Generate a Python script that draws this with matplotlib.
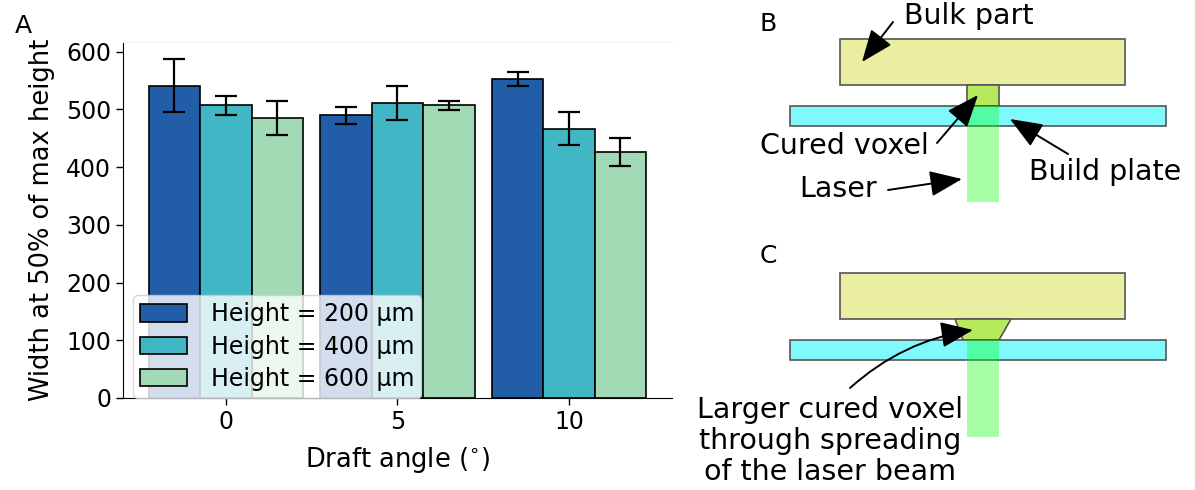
import numpy as np
import matplotlib
matplotlib.use('Agg')
import matplotlib.pyplot as plt
from matplotlib.patches import Rectangle, Polygon

plt.rcParams['font.family'] = ['DejaVu Sans']

# Widths at half maximum for each draft angle and nominal height
angles = [0, 5, 10]
heights = ['Height = 200 μm', 'Height = 400 μm', 'Height = 600 μm']
width_200 = [541, 490, 553]
width_400 = [507, 511, 467]
width_600 = [485, 507, 426]
err_200 = [46, 14.5, 12.5]
err_400 = [16, 30, 28.5]
err_600 = [30, 8.5, 24]
colors = ['#225ea8', '#41b6c4', '#a1dab4']

fig = plt.figure(figsize=(11.95, 4.9), dpi=100)

# Bar chart
ax = fig.add_axes([0.1029, 0.1878, 0.4594, 0.7265])
offsets = [-1.5, 0, 1.5]
for off, vals, errs, col, lab in zip(offsets, [width_200, width_400, width_600],
                                     [err_200, err_400, err_600], colors, heights):
    x = np.array(angles) + off
    ax.bar(x, vals, width=1.5, color=col, edgecolor='black', linewidth=1.2, label=lab)
    ax.errorbar(x, vals, yerr=errs, fmt='none', ecolor='black', elinewidth=1.6,
                capsize=8, capthick=1.6)

ax.set_xlim(-3, 13)
ax.set_ylim(0, 617)
ax.set_xticks(angles)
ax.set_yticks([0, 100, 200, 300, 400, 500, 600])
ax.tick_params(labelsize=17, length=5, width=1)
ax.spines['right'].set_visible(False)
ax.spines['top'].set_color('#f2f2f2')
ax.set_xlabel(r'Draft angle ($^{\circ}$)', fontsize=18.5, labelpad=8)
ax.set_ylabel('Width at 50% of max height', fontsize=18.5, labelpad=8)
ax.legend(loc='lower left', bbox_to_anchor=(0.018, 0.0), borderaxespad=0,
          fontsize=17, handlelength=2.0, handleheight=0.75, labelspacing=0.35,
          handletextpad=1.0, framealpha=0.8, borderpad=0.3)
fig.text(0.012, 0.932, 'A', fontsize=18)

# Schematics B and C drawn in pixel coordinates
sk = fig.add_axes([0, 0, 1, 1], zorder=5)
sk.set_xlim(0, 1195)
sk.set_ylim(490, 0)
sk.axis('off')
sk.patch.set_alpha(0)

bulk_c = '#eaeea0'
plate_c = '#80f9fd'
voxel_c = '#b6ea5c'
edge_c = '#555555'


def draw_setup(y0, voxel_pts):
    sk.add_patch(Rectangle((840, y0), 285, 46, facecolor=bulk_c, edgecolor=edge_c, lw=1.2))
    sk.add_patch(Polygon(voxel_pts, closed=True, facecolor=voxel_c, edgecolor=edge_c, lw=1.2))
    sk.add_patch(Rectangle((790, y0 + 67), 376, 20, facecolor=plate_c, edgecolor=edge_c, lw=1.2))


arrow = dict(arrowstyle='-|>,head_length=1.0,head_width=0.4', color='black', lw=1.4,
             shrinkA=0, shrinkB=0, mutation_scale=20)

# B: straight beam
draw_setup(39, [(967, 85), (999, 85), (999, 106), (967, 106)])
sk.add_patch(Rectangle((967, 106), 32, 96, facecolor=(0, 1, 0), alpha=0.35, lw=0))
sk.text(760, 24, 'B', fontsize=18, va='center', ha='left')
sk.text(904, 16, 'Bulk part', fontsize=20.5, va='center', ha='left')
sk.annotate('', xy=(862, 62), xytext=(893, 22), arrowprops=arrow)
sk.text(760, 146, 'Cured voxel', fontsize=20.5, va='center', ha='left')
sk.annotate('', xy=(978, 95), xytext=(937, 143), arrowprops=arrow)
sk.text(1029, 172, 'Build plate', fontsize=20.5, va='center', ha='left')
sk.annotate('', xy=(1010, 119), xytext=(1068, 154), arrowprops=arrow)
sk.text(799, 189, 'Laser', fontsize=20.5, va='center', ha='left')
sk.annotate('', xy=(962, 179), xytext=(888, 190), arrowprops=arrow)

# C: beam spreading above the plate
draw_setup(273, [(955, 319), (1011, 319), (999, 340), (963, 340)])
sk.add_patch(Rectangle((967, 340), 32, 97, facecolor=(0, 1, 0), alpha=0.35, lw=0))
sk.text(760, 256, 'C', fontsize=18, va='center', ha='left')
sk.annotate('', xy=(973, 330), xytext=(850, 388),
            arrowprops=dict(arrow, connectionstyle='arc3,rad=-0.15'))
sk.text(830, 441, 'Larger cured voxel\nthrough spreading\nof the laser beam',
        fontsize=20.5, va='center', ha='center', linespacing=1.15)

fig.savefig('out.png', dpi=100)
